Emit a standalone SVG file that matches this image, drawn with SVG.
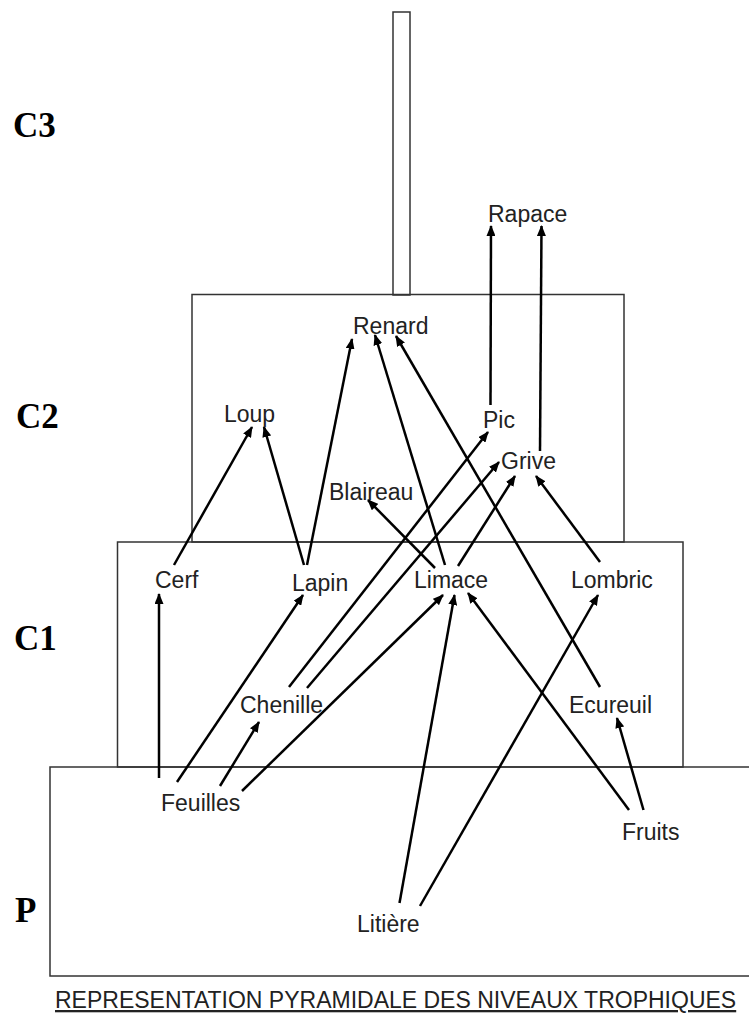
<svg xmlns="http://www.w3.org/2000/svg" width="749" height="1019" viewBox="0 0 749 1019">
<style>
.box{fill:none;stroke:#333;stroke-width:1.5}
.lvl{font-family:"Liberation Serif",serif;font-weight:bold;font-size:35px;fill:#000}
.lbl{font-family:"Liberation Sans",Arial,sans-serif;font-size:23px;fill:#222}
.cap{font-family:"Liberation Sans",Arial,sans-serif;font-size:23px;fill:#222;text-decoration:underline}
.arr line{stroke:#000;stroke-width:2.5;marker-end:url(#ah)}
</style>
<defs>
<marker id="ah" markerWidth="11" markerHeight="9" refX="10" refY="4.5" orient="auto" markerUnits="userSpaceOnUse">
<path d="M0,0 L11,4.5 L0,9 z" fill="#000"/>
</marker>
</defs>
<rect width="749" height="1019" fill="#fff"/>
<g id="levels">
<rect id="level-C3" class="box" x="393" y="12" width="17" height="283"/>
<rect id="level-C2" class="box" x="192" y="294.5" width="432" height="247.5"/>
<rect id="level-C1" class="box" x="117.5" y="542" width="565.5" height="225"/>
<rect id="level-P" class="box" x="50" y="767" width="720" height="209"/>
<text class="lvl" x="13" y="137">C3</text>
<text class="lvl" x="16" y="428">C2</text>
<text class="lvl" x="14" y="650">C1</text>
<text class="lvl" x="15" y="922">P</text>
</g>
<g id="connectors" class="arr">
<line x1="490.5" y1="405" x2="491" y2="226"/>
<line x1="540" y1="451" x2="541.5" y2="226"/>
<line x1="174" y1="565" x2="252" y2="427"/>
<line x1="304" y1="565" x2="264" y2="427"/>
<line x1="307" y1="565" x2="352" y2="339"/>
<line x1="445" y1="565" x2="375" y2="335"/>
<line x1="600" y1="687" x2="396" y2="336"/>
<line x1="289" y1="687" x2="488" y2="432"/>
<line x1="307" y1="688" x2="499" y2="462"/>
<line x1="458" y1="566" x2="515" y2="476"/>
<line x1="600" y1="562" x2="536" y2="476"/>
<line x1="435" y1="568" x2="368" y2="500"/>
<line x1="159" y1="778" x2="159" y2="594"/>
<line x1="177" y1="782" x2="303" y2="595"/>
<line x1="220" y1="786" x2="259" y2="722"/>
<line x1="242" y1="791" x2="443" y2="595"/>
<line x1="399.5" y1="903" x2="454.5" y2="595"/>
<line x1="420" y1="906" x2="598" y2="595"/>
<line x1="629" y1="810" x2="468" y2="593"/>
<line x1="643.5" y1="810" x2="617" y2="718"/>
</g>
<g id="node-rapace"><text class="lbl" x="488" y="222">Rapace</text></g>
<g id="node-renard"><text class="lbl" x="353" y="334">Renard</text></g>
<g id="node-loup"><text class="lbl" x="224" y="422">Loup</text></g>
<g id="node-pic"><text class="lbl" x="483" y="428">Pic</text></g>
<g id="node-grive"><text class="lbl" x="501" y="469">Grive</text></g>
<g id="node-blaireau"><text class="lbl" x="329" y="500">Blaireau</text></g>
<g id="node-cerf"><text class="lbl" x="155" y="588">Cerf</text></g>
<g id="node-lapin"><text class="lbl" x="292" y="591">Lapin</text></g>
<g id="node-limace"><text class="lbl" x="414" y="588">Limace</text></g>
<g id="node-lombric"><text class="lbl" x="571" y="588">Lombric</text></g>
<g id="node-chenille"><text class="lbl" x="240" y="713">Chenille</text></g>
<g id="node-ecureuil"><text class="lbl" x="569" y="713">Ecureuil</text></g>
<g id="node-feuilles"><text class="lbl" x="161" y="811">Feuilles</text></g>
<g id="node-fruits"><text class="lbl" x="622" y="840">Fruits</text></g>
<g id="node-litiere"><text class="lbl" x="357" y="932">Litière</text></g>
<text class="cap" x="55" y="1008">REPRESENTATION PYRAMIDALE DES NIVEAUX TROPHIQUES</text>
</svg>
